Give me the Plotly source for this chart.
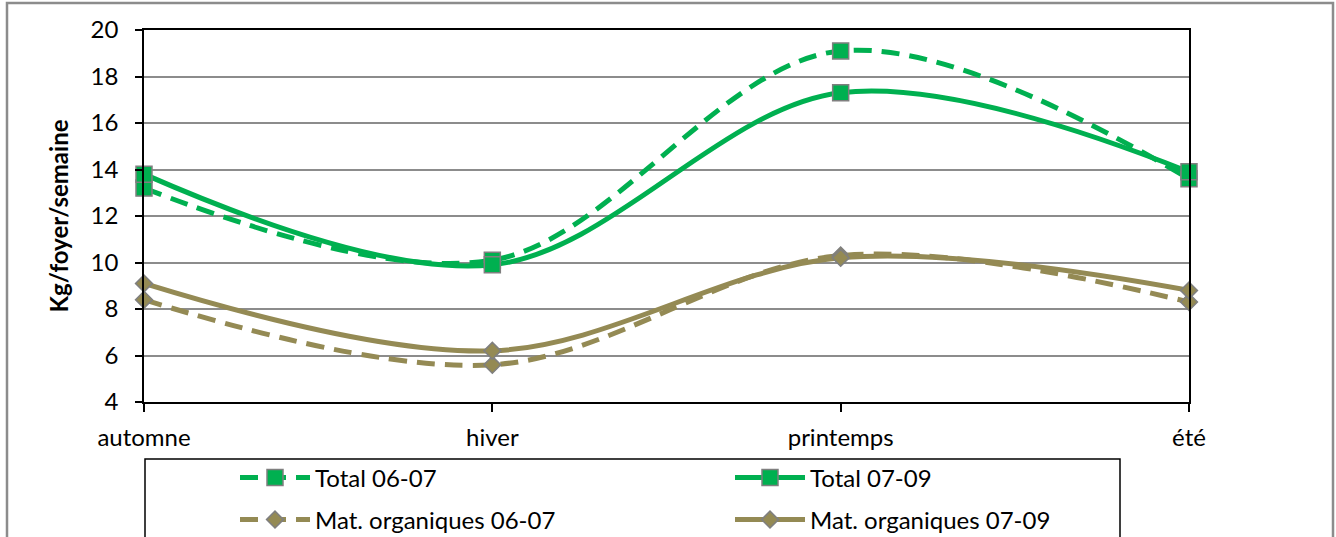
import plotly.graph_objects as go

seasons = ["automne", "hiver", "printemps", "été"]
total_0607 = [13.2, 10.1, 19.1, 13.6]
total_0709 = [13.8, 9.9, 17.3, 13.9]
org_0607 = [8.4, 5.6, 10.3, 8.3]
org_0709 = [9.1, 6.2, 10.2, 8.8]
y_ticks = [4, 6, 8, 10, 12, 14, 16, 18, 20]

GREEN = "#00B050"
OLIVE = "#948A54"
EDGE = "#7F7F7F"
FONT = "Lato"

W, H = 1336, 537
L, R, T, B = 144, 1189, 30, 402
pw, ph = R - L, B - T


def px(x):
    return (x - L) / pw


def py(y):
    return (B - y) / ph


fig = go.Figure()
series = [
    ("Total 06-07", total_0607, GREEN, "18px,10px", "square", 16, "legend"),
    ("Total 07-09", total_0709, GREEN, "solid", "square", 16, "legend"),
    ("Mat. organiques 06-07", org_0607, OLIVE, "18px,10px", "diamond", 13, "legend2"),
    ("Mat. organiques 07-09", org_0709, OLIVE, "solid", "diamond", 13, "legend2"),
]
for name, vals, col, dash, sym, size, leg in series:
    fig.add_trace(go.Scatter(
        x=seasons, y=vals, name=name, mode="lines+markers",
        line=dict(color=col, width=5, dash=dash, shape="spline", smoothing=1),
        marker=dict(symbol=sym, size=size, color=col, line=dict(color=EDGE, width=1.5)),
        legend=leg, cliponaxis=False,
    ))

legend_common = dict(
    orientation="h", xanchor="left", yanchor="middle",
    font=dict(family=FONT, size=24, color="black"),
    bgcolor="rgba(0,0,0,0)", borderwidth=0,
    entrywidth=410, entrywidthmode="pixels", itemwidth=70,
)

fig.update_layout(
    width=W, height=H,
    margin=dict(l=L, r=W - R, t=T, b=H - B, pad=0, autoexpand=False),
    paper_bgcolor="white", plot_bgcolor="white",
    font=dict(family=FONT, size=24, color="black"),
    showlegend=True,
    legend=dict(x=px(235), y=py(478), **legend_common),
    legend2=dict(x=px(235), y=py(520), **legend_common),
    xaxis=dict(
        type="category", range=[0, 3], showgrid=False,
        showline=True, linecolor="black", linewidth=1.5, mirror=True,
        ticks="outside", ticklen=8, tickcolor="black", tickwidth=1.5,
        ticklabelstandoff=5,
        tickfont=dict(family=FONT, size=24, color="black"),
    ),
    yaxis=dict(
        range=[4, 20], tickvals=y_ticks,
        showgrid=True, gridcolor="#8C8C8C", gridwidth=1.5,
        showline=True, linecolor="black", linewidth=1.5, mirror=True,
        ticks="outside", ticklen=7, tickcolor="black", tickwidth=1.5,
        ticklabelstandoff=12, zeroline=False,
        tickfont=dict(family=FONT, size=24, color="black"),
        title=dict(text="<b>Kg/foyer/semaine</b>", standoff=15,
                   font=dict(family=FONT, size=24, color="black")),
    ),
    shapes=[
        dict(type="rect", xref="paper", yref="paper",
             x0=px(7), x1=px(1333), y0=py(560), y1=py(3),
             line=dict(color="#8C8C8C", width=2.5), layer="below"),
        dict(type="rect", xref="paper", yref="paper",
             x0=px(145), x1=px(1120), y0=py(560), y1=py(459),
             line=dict(color="black", width=1.5), layer="below"),
    ],
)

fig.write_html("out.html", config={"displayModeBar": False},
               post_script="document.body.style.margin='0';")
